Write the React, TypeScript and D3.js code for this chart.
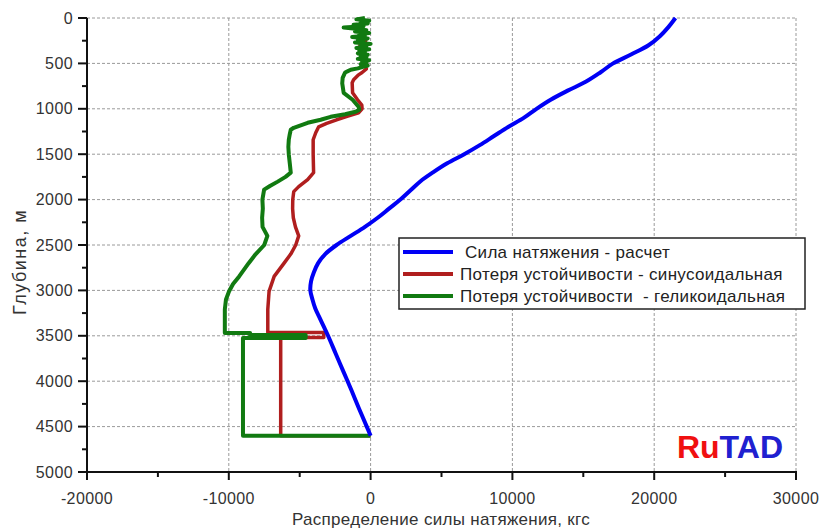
import React, { useEffect, useRef } from "react";
import * as d3 from "d3";

// Depth (m) and force (kgf)
const blueDepth = [0, 100, 200, 300, 400, 500, 600, 700, 800, 900, 1000, 1100, 1200, 1300, 1400, 1500, 1600, 1700, 1800, 1900, 2000, 2100, 2200, 2300, 2400, 2500, 2600, 2700, 2800, 2900, 3000, 3100, 3200, 3300, 3400, 3500, 3700, 3900, 4100, 4300, 4500, 4600];
const blueForce = [21500, 21000, 20400, 19600, 18400, 17100, 16200, 15200, 13900, 12700, 11700, 10800, 9700, 8700, 7700, 6600, 5400, 4400, 3500, 2800, 2100, 1300, 500, -400, -1400, -2400, -3200, -3700, -4000, -4200, -4250, -4100, -3900, -3600, -3300, -3000, -2450, -1900, -1350, -820, -270, 0];

const redDepth = [0, 50, 100, 150, 200, 250, 300, 350, 400, 450, 500, 560, 600, 626, 680, 714, 824, 901, 960, 1000, 1044, 1080, 1121, 1160, 1198, 1264, 1341, 1500, 1703, 1780, 1857, 1912, 2000, 2100, 2200, 2300, 2400, 2500, 2600, 2700, 2846, 3010, 3209, 3465, 3465, 3520, 3520, 4600, 4600];
const redForce = [-700, -500, -800, -400, -650, -350, -750, -400, -600, -300, -400, -300, -600, -850, -1200, -1300, -1270, -920, -620, -600, -850, -1600, -2400, -3100, -3660, -3870, -4050, -4050, -4020, -4440, -5070, -5420, -5490, -5500, -5450, -5300, -5070, -5280, -5630, -6100, -6800, -7160, -7250, -7250, -3300, -3300, -6340, -6340, 0];

const greenDepth = [0, 15, 30, 45, 60, 75, 90, 105, 120, 135, 150, 165, 180, 195, 210, 225, 240, 255, 270, 285, 300, 315, 330, 345, 360, 375, 390, 405, 420, 435, 450, 465, 480, 495, 510, 525, 540, 555, 570, 585, 600, 660, 720, 824, 900, 978, 1010, 1033, 1060, 1088, 1121, 1154, 1209, 1231, 1280, 1341, 1420, 1500, 1600, 1703, 1750, 1802, 1850, 1890, 2000, 2100, 2200, 2300, 2400, 2500, 2600, 2700, 2846, 2930, 3010, 3100, 3209, 3470, 3470, 3490, 3490, 3525, 3525, 4600, 4600];
const greenForce = [-400, -1000, -100, -700, -200, -1200, -500, -1900, -900, -300, -1100, -100, -800, -400, -1300, -200, -900, -500, -1100, 0, -700, -300, -1000, -100, -800, -400, -900, -200, -700, -300, -900, -100, -600, -300, -700, -200, -600, -900, -1400, -1600, -1800, -1970, -2000, -1900, -1270, -850, -800, -1060, -1800, -2820, -3520, -4440, -5420, -5630, -5700, -5770, -5800, -5770, -5700, -5630, -6000, -6550, -7100, -7510, -7630, -7600, -7650, -7620, -7280, -7500, -8100, -8600, -9270, -9700, -9980, -10200, -10280, -10280, -8500, -8500, -4580, -4580, -9000, -9000, 0];

const xTicks = [-20000, -10000, 0, 10000, 20000, 30000];
const xMinor = [-15000, -5000, 5000, 15000, 25000];
const yTicks = [0, 500, 1000, 1500, 2000, 2500, 3000, 3500, 4000, 4500, 5000];
const yMinor = [250, 750, 1250, 1750, 2250, 2750, 3250, 3750, 4250, 4750];

const seriesNames = [
  " Сила натяжения - расчет",
  "Потеря устойчивости - синусоидальная",
  "Потеря устойчивости  - геликоидальная",
];
const seriesColors = ["#0000f5", "#b01e1e", "#117a11"];

const font = "'Liberation Sans', Arial, sans-serif";

const App: React.FC = () => {
  const svgRef = useRef<SVGSVGElement>(null);
  const width = 819;
  const height = 529;

  useEffect(() => {
    if (!svgRef.current) return;
    const svg = d3.select(svgRef.current);
    svg.selectAll("*").remove();

    const x = d3.scaleLinear().domain([-20000, 30000]).range([87, 796]);
    const y = d3.scaleLinear().domain([0, 5000]).range([18, 472]);

    svg.append("rect").attr("width", width).attr("height", height).attr("fill", "white");

    // grid
    const grid = svg.append("g").attr("stroke", "#9a9a9a").attr("stroke-width", 1).attr("stroke-dasharray", "3,2");
    grid
      .selectAll("line.gx")
      .data(xTicks.slice(1))
      .join("line")
      .attr("x1", (d) => x(d))
      .attr("x2", (d) => x(d))
      .attr("y1", y(0))
      .attr("y2", y(5000));
    grid
      .selectAll("line.gy")
      .data(yTicks.slice(0, -1))
      .join("line")
      .attr("class", "gy")
      .attr("x1", x(-20000))
      .attr("x2", x(30000))
      .attr("y1", (d) => y(d))
      .attr("y2", (d) => y(d));

    // series
    const line = d3
      .line<[number, number]>()
      .x((d) => x(d[0]))
      .y((d) => y(d[1]));
    const smooth = d3
      .line<[number, number]>()
      .x((d) => x(d[0]))
      .y((d) => y(d[1]))
      .curve(d3.curveCatmullRom);
    const series: [number[], number[], number, string, boolean][] = [
      [redForce, redDepth, 3.5, seriesColors[1], false],
      [greenForce, greenDepth, 4, seriesColors[2], false],
      [blueForce, blueDepth, 4, seriesColors[0], true],
    ];
    series.forEach(([f, dep, w, col, sm]) => {
      const pts = f.map((v, k) => [v, dep[k]] as [number, number]);
      svg
        .append("path")
        .datum(pts)
        .attr("d", sm ? smooth : line)
        .attr("fill", "none")
        .attr("stroke", col)
        .attr("stroke-width", w)
        .attr("stroke-linejoin", "round");
    });

    // axes
    const ax = svg.append("g").attr("stroke", "#111");
    ax.append("line").attr("x1", x(-20000)).attr("x2", x(-20000)).attr("y1", y(0)).attr("y2", y(5000) + 1).attr("stroke-width", 2);
    ax.append("line").attr("x1", x(-20000) - 1).attr("x2", x(30000) + 1).attr("y1", y(5000)).attr("y2", y(5000)).attr("stroke-width", 2);
    ax.selectAll("line.ymaj")
      .data(yTicks)
      .join("line")
      .attr("class", "ymaj")
      .attr("x1", x(-20000) - 9)
      .attr("x2", x(-20000))
      .attr("y1", (d) => y(d))
      .attr("y2", (d) => y(d))
      .attr("stroke-width", 2);
    ax.selectAll("line.ymin")
      .data(yMinor)
      .join("line")
      .attr("class", "ymin")
      .attr("x1", x(-20000) - 5)
      .attr("x2", x(-20000))
      .attr("y1", (d) => y(d))
      .attr("y2", (d) => y(d))
      .attr("stroke-width", 2);
    ax.selectAll("line.xmaj")
      .data(xTicks)
      .join("line")
      .attr("class", "xmaj")
      .attr("x1", (d) => x(d))
      .attr("x2", (d) => x(d))
      .attr("y1", y(5000))
      .attr("y2", y(5000) + 8)
      .attr("stroke-width", 2);
    ax.selectAll("line.xmin")
      .data(xMinor)
      .join("line")
      .attr("class", "xmin")
      .attr("x1", (d) => x(d))
      .attr("x2", (d) => x(d))
      .attr("y1", y(5000))
      .attr("y2", y(5000) + 5)
      .attr("stroke-width", 2);

    // tick labels
    svg
      .selectAll("text.yl")
      .data(yTicks)
      .join("text")
      .attr("x", x(-20000) - 14)
      .attr("y", (d) => y(d))
      .attr("dy", "0.35em")
      .attr("text-anchor", "end")
      .attr("font-family", font)
      .attr("font-size", 16)
      .attr("letter-spacing", 0.4)
      .attr("fill", "#333")
      .text((d) => String(d));
    svg
      .selectAll("text.xl")
      .data(xTicks)
      .join("text")
      .attr("x", (d) => x(d))
      .attr("y", 504)
      .attr("text-anchor", "middle")
      .attr("font-family", font)
      .attr("font-size", 16)
      .attr("letter-spacing", 0.4)
      .attr("fill", "#333")
      .text((d) => String(d));

    // axis titles
    svg
      .append("text")
      .attr("x", 441)
      .attr("y", 525)
      .attr("text-anchor", "middle")
      .attr("font-family", font)
      .attr("font-size", 17)
      .attr("letter-spacing", 0.3)
      .attr("fill", "#333")
      .text("Распределение силы натяжения, кгс");
    svg
      .append("text")
      .attr("transform", "translate(26,262) rotate(-90)")
      .attr("text-anchor", "middle")
      .attr("font-family", font)
      .attr("font-size", 18)
      .attr("letter-spacing", 1.5)
      .attr("fill", "#333")
      .text("Глубина, м");

    // legend
    const lg = svg.append("g");
    lg.append("rect")
      .attr("x", 399)
      .attr("y", 238)
      .attr("width", 406)
      .attr("height", 71)
      .attr("fill", "white")
      .attr("stroke", "#222")
      .attr("stroke-width", 1.5);
    seriesNames.forEach((name, i) => {
      const ly = 252 + i * 22;
      lg.append("line")
        .attr("x1", 403)
        .attr("x2", 453)
        .attr("y1", ly)
        .attr("y2", ly)
        .attr("stroke", seriesColors[i])
        .attr("stroke-width", 4);
      lg.append("text")
        .attr("x", 460)
        .attr("y", ly)
        .attr("dy", "0.35em")
        .attr("font-family", font)
        .attr("font-size", 17)
        .attr("letter-spacing", 0.3)
        .attr("fill", "#222")
        .style("white-space", "pre")
        .text(name);
    });

    // watermark
    const wm = svg
      .append("text")
      .attr("x", 783)
      .attr("y", 458)
      .attr("text-anchor", "end")
      .attr("font-family", font)
      .attr("font-size", 32)
      .attr("font-weight", "bold");
    wm.append("tspan").attr("fill", "#f01010").text("Ru");
    wm.append("tspan").attr("fill", "#2020d0").text("TAD");
  }, []);

  return (
    <svg
      ref={svgRef}
      width={width}
      height={height}
      style={{ position: "absolute", left: 0, top: 0, display: "block" }}
    ></svg>
  );
};

export default App;
